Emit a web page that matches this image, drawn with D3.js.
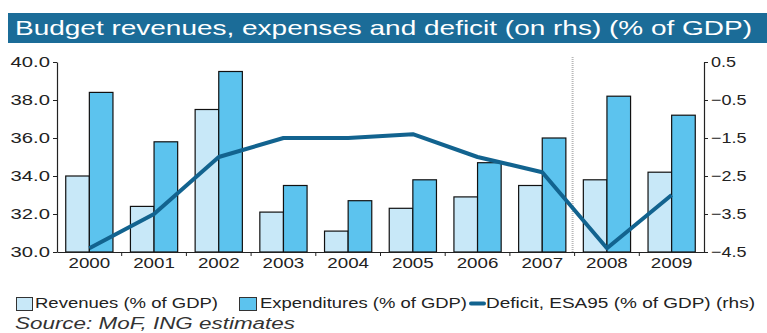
<!DOCTYPE html>
<html><head><meta charset="utf-8">
<script src="https://cdn.jsdelivr.net/npm/d3@7/dist/d3.min.js"></script>
<style>body{margin:0;background:#fff}svg{display:block}text{font-family:"Liberation Sans",Arial,sans-serif}</style>
</head><body>
<svg id="c" width="767" height="333"></svg>
<script>
const years = ["2000","2001","2002","2003","2004","2005","2006","2007","2008","2009"];
const revenues = [34.0,32.4,37.5,32.1,31.1,32.3,32.9,33.5,33.8,34.2];
const expenditures = [38.4,35.8,39.5,33.5,32.7,33.8,34.7,36.0,38.2,37.2];
const deficit = [-4.4,-3.5,-2.0,-1.5,-1.5,-1.4,-2.0,-2.4,-4.4,-3.0];
const leftTicks = [30,32,34,36,38,40];
const rightTicks = [-4.5,-3.5,-2.5,-1.5,-0.5,0.5];
const forecastStart = "2008";
const title = "Budget revenues, expenses and deficit (on rhs) (% of GDP)";
const source = "Source: MoF, ING estimates";
const legendLabels = ["Revenues (% of GDP)", "Expenditures (% of GDP)", "Deficit, ESA95 (% of GDP) (rhs)"];

const svg = d3.select("#c");
const L = 57, R = 704, T = 62, B = 252;
const x = d3.scaleBand().domain(years).range([L, R]).paddingInner(0.27).paddingOuter(0.135);
const band = d3.scaleBand().domain(years).range([L, R]);
const yL = d3.scaleLinear().domain([30, 40]).range([B, T]);
const yR = d3.scaleLinear().domain([-4.5, 0.5]).range([B, T]);
const revCol = "#c8e8f8", expCol = "#5cc3ee", lineCol = "#12638f";

function stretch(sel, k) {
  sel.each(function () {
    const w = this.getComputedTextLength();
    d3.select(this).attr("textLength", w * k).attr("lengthAdjust", "spacingAndGlyphs");
  });
}

// title bar
svg.append("rect").attr("x", 8).attr("y", 13).attr("width", 759).attr("height", 30).attr("fill", "#1b6c98");
svg.append("text").attr("x", 15).attr("y", 35).attr("fill", "#fff").attr("font-size", 21)
  .attr("textLength", 737).attr("lengthAdjust", "spacingAndGlyphs").text(title);

// forecast divider
svg.append("line").attr("x1", band(forecastStart) - 2).attr("x2", band(forecastStart) - 2)
  .attr("y1", 57).attr("y2", B).attr("stroke", "#b8b8b8").attr("stroke-width", 2).attr("stroke-dasharray", "1,1");

// bars
const bw = x.bandwidth() / 2;
const g = svg.append("g");
g.selectAll("rect.rev").data(years).join("rect").attr("class", "rev")
  .attr("x", d => x(d)).attr("y", (d, i) => yL(revenues[i])).attr("width", bw)
  .attr("height", (d, i) => B - yL(revenues[i])).attr("fill", revCol).attr("stroke", "#111").attr("stroke-width", 1.2);
g.selectAll("rect.exp").data(years).join("rect").attr("class", "exp")
  .attr("x", d => x(d) + bw).attr("y", (d, i) => yL(expenditures[i])).attr("width", bw)
  .attr("height", (d, i) => B - yL(expenditures[i])).attr("fill", expCol).attr("stroke", "#111").attr("stroke-width", 1.2);

// line
const line = d3.line().x((d, i) => x(years[i]) + bw).y(d => yR(d));
svg.append("path").datum(deficit).attr("d", line).attr("fill", "none").attr("stroke", lineCol)
  .attr("stroke-width", 4).attr("stroke-linejoin", "round");

// axes
const axL = d3.axisLeft(yL).tickValues(leftTicks).tickFormat(d3.format(".1f")).tickSize(4).tickSizeOuter(0);
const axR = d3.axisRight(yR).tickValues(rightTicks).tickFormat(d3.format(".1f")).tickSize(4).tickSizeOuter(0);
const gl = svg.append("g").attr("transform", `translate(${L},0)`).call(axL);
const gr = svg.append("g").attr("transform", `translate(${R},0)`).call(axR);
const axB = d3.axisBottom(band).tickSize(0).tickPadding(5);
const gb = svg.append("g").attr("transform", `translate(0,${B})`).call(axB);
gb.selectAll("line.sep").data(years.slice(1)).join("line").attr("class", "sep")
  .attr("x1", d => band(d)).attr("x2", d => band(d)).attr("y1", 0).attr("y2", 4).attr("stroke", "#222");
[gl, gr, gb].forEach(a => {
  a.attr("font-family", null);
  a.selectAll(".domain").attr("stroke", "#222").attr("stroke-width", 1.2);
  a.selectAll(".tick line").attr("stroke", "#222");
  a.selectAll("text").attr("font-size", 15).attr("fill", "#222");
});
gl.selectAll(".tick text").attr("x", -7);
gr.selectAll(".tick text").attr("x", 7);
stretch(gl.selectAll(".tick text"), 1.35);
stretch(gr.selectAll(".tick text"), 1.2);
stretch(gb.selectAll(".tick text"), 1.25);

// legend
const lg = svg.append("g").attr("font-size", 15).attr("fill", "#222");
lg.append("rect").attr("x", 16.5).attr("y", 297.5).attr("width", 16).attr("height", 13).attr("fill", revCol).attr("stroke", "#333");
lg.append("text").attr("x", 35).attr("y", 308).attr("textLength", 183).text(legendLabels[0]);
lg.append("rect").attr("x", 239.5).attr("y", 297.5).attr("width", 17).attr("height", 13).attr("fill", expCol).attr("stroke", "#333");
lg.append("text").attr("x", 260).attr("y", 308).attr("textLength", 207).text(legendLabels[1]);
lg.append("line").attr("x1", 471).attr("x2", 484).attr("y1", 303.5).attr("y2", 303.5).attr("stroke", lineCol).attr("stroke-width", 4).attr("stroke-linecap", "round");
lg.append("text").attr("x", 486).attr("y", 308).attr("textLength", 269).text(legendLabels[2]);
lg.selectAll("text").attr("lengthAdjust", "spacingAndGlyphs");

svg.append("text").attr("x", 15).attr("y", 329).attr("font-size", 16).attr("font-style", "italic").attr("fill", "#333")
  .attr("textLength", 280).attr("lengthAdjust", "spacingAndGlyphs").text(source);
</script>
</body></html>
